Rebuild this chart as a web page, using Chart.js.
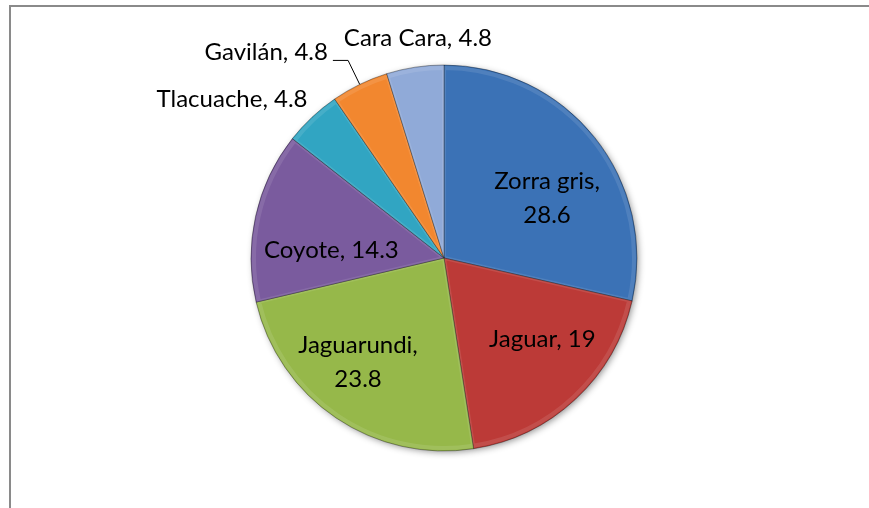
<!DOCTYPE html>
<html>
<head>
<meta charset="utf-8">
<script src="https://cdn.jsdelivr.net/npm/chart.js@4.4.1/dist/chart.umd.min.js"></script>
<style>
  html, body { margin: 0; padding: 0; background: #ffffff; }
  #wrap { width: 869px; height: 508px; }
</style>
</head>
<body>
<div id="wrap"><canvas id="c" width="869" height="508"></canvas></div>
<script>
// ---- data ----
const categories = ['Zorra gris', 'Jaguar', 'Jaguarundi', 'Coyote', 'Tlacuache', 'Gavilán', 'Cara Cara'];
const values = [28.6, 19, 23.8, 14.3, 4.8, 4.8, 4.8];

// ---- styles ----
const colors = ['#3B72B6', '#BC3A37', '#96B84A', '#7A5B9E', '#31A5C2', '#F2872F', '#90AAD8'];
// label layout: f = fraction of outer radius, da = angle shift (deg) from slice mid-angle
const labelLayout = [
  { f: 0.619, da: 8.2, wrap: true },
  { f: 0.659, da: -7.7 },
  { f: 0.699, da: 5.6, wrap: true },
  { f: 0.585, da: -8.2 },
  { f: 1.376, da: -9.8 },
  { f: 1.41, da: -14.9, leader: 1.138 },
  { f: 1.153, da: 1.9 }
];
const FONT_SIZE = 24;
const FONT = FONT_SIZE + 'px Lato, "Open Sans", sans-serif';
const LINE_GAP = 34;

function shade(hex, amt) {
  const n = parseInt(hex.slice(1), 16);
  let r = (n >> 16) & 255, g = (n >> 8) & 255, b = n & 255;
  const f = c => Math.max(0, Math.min(255, Math.round(amt >= 0 ? c + (255 - c) * amt : c * (1 + amt))));
  return 'rgb(' + f(r) + ',' + f(g) + ',' + f(b) + ')';
}

const framePlugin = {
  id: 'frame',
  beforeDraw(chart) {
    const ctx = chart.ctx;
    ctx.save();
    ctx.fillStyle = '#ffffff';
    ctx.fillRect(0, 0, chart.width, chart.height);
    ctx.fillStyle = '#8a8a8a';
    ctx.fillRect(9, 5, 2, chart.height - 5);
    ctx.fillRect(9, 5, chart.width - 9, 2);
    ctx.restore();
  }
};

const shadowPlugin = {
  id: 'pieShadow',
  beforeDatasetsDraw(chart) {
    const arc = chart.getDatasetMeta(0).data[0];
    if (!arc) return;
    const { x, y, outerRadius } = arc.getProps(['x', 'y', 'outerRadius'], true);
    const ctx = chart.ctx;
    ctx.save();
    ctx.shadowColor = 'rgba(0,0,0,0.45)';
    ctx.shadowBlur = 7;
    ctx.shadowOffsetX = 2;
    ctx.shadowOffsetY = 2;
    ctx.fillStyle = '#777';
    ctx.beginPath();
    ctx.arc(x, y, outerRadius - 1, 0, Math.PI * 2);
    ctx.fill();
    ctx.restore();
  }
};

const bevelPlugin = {
  id: 'bevel',
  afterDatasetsDraw(chart) {
    const ctx = chart.ctx;
    const meta = chart.getDatasetMeta(0);
    meta.data.forEach((arc) => {
      const { x, y, startAngle, endAngle, outerRadius } = arc.getProps(['x', 'y', 'startAngle', 'endAngle', 'outerRadius'], true);
      ctx.save();
      ctx.beginPath();
      ctx.moveTo(x, y);
      ctx.arc(x, y, outerRadius, startAngle, endAngle);
      ctx.closePath();
      ctx.clip();
      ctx.lineWidth = 4;
      ctx.strokeStyle = 'rgba(255,255,255,0.10)';
      ctx.beginPath();
      ctx.moveTo(x, y);
      ctx.arc(x, y, outerRadius - 3, startAngle, endAngle);
      ctx.closePath();
      ctx.stroke();
      ctx.restore();
    });
  }
};

const labelPlugin = {
  id: 'sliceLabels',
  afterDatasetsDraw(chart) {
    const ctx = chart.ctx;
    const meta = chart.getDatasetMeta(0);
    ctx.save();
    ctx.font = FONT;
    ctx.fillStyle = '#000000';
    ctx.textAlign = 'center';
    ctx.textBaseline = 'alphabetic';
    const capH = ctx.measureText('H').actualBoundingBoxAscent;
    meta.data.forEach((arc, i) => {
      const { x, y, startAngle, endAngle, outerRadius } = arc.getProps(['x', 'y', 'startAngle', 'endAngle', 'outerRadius'], true);
      const mid = (startAngle + endAngle) / 2;
      const L = labelLayout[i];
      const a = mid + L.da * Math.PI / 180;
      const r = outerRadius * L.f;
      const cx = x + r * Math.cos(a);
      const cy = y + r * Math.sin(a);
      const lines = L.wrap ? [categories[i] + ',', String(values[i])] : [categories[i] + ', ' + values[i]];
      lines.forEach((t, k) => {
        const off = (k - (lines.length - 1) / 2) * LINE_GAP;
        ctx.fillText(t, cx, cy + off + capH / 2);
      });
      if (L.leader) {
        const w = ctx.measureText(lines[0]).width;
        const rimX = x + outerRadius * Math.cos(mid);
        const rimY = y + outerRadius * Math.sin(mid);
        const ex = x + outerRadius * L.leader * Math.cos(mid);
        const ey = y + outerRadius * L.leader * Math.sin(mid);
        ctx.beginPath();
        ctx.strokeStyle = '#000000';
        ctx.lineWidth = 1;
        ctx.moveTo(rimX, rimY);
        ctx.lineTo(ex, ey);
        ctx.lineTo(cx + w / 2 + 5, ey);
        ctx.stroke();
      }
    });
    ctx.restore();
  }
};

new Chart(document.getElementById('c'), {
  type: 'pie',
  data: {
    labels: categories,
    datasets: [{
      data: values,
      radius: 193,
      backgroundColor(context) {
        const chart = context.chart;
        const arc = chart.getDatasetMeta(0).data[context.dataIndex];
        const base = colors[context.dataIndex];
        if (!arc || !arc.outerRadius) return base;
        const g = chart.ctx.createRadialGradient(arc.x, arc.y, 0, arc.x, arc.y, arc.outerRadius);
        g.addColorStop(0, shade(base, 0.06));
        g.addColorStop(0.85, base);
        g.addColorStop(0.95, shade(base, -0.12));
        g.addColorStop(1, shade(base, -0.28));
        return g;
      },
      borderColor: 'rgba(0,0,0,0.35)',
      borderWidth: 1
    }]
  },
  options: {
    responsive: false,
    animation: false,
    layout: { padding: { left: 19, right: 0, top: 8, bottom: 0 } },
    plugins: { legend: { display: false }, tooltip: { enabled: false } }
  },
  plugins: [framePlugin, shadowPlugin, bevelPlugin, labelPlugin]
});
</script>
</body>
</html>
